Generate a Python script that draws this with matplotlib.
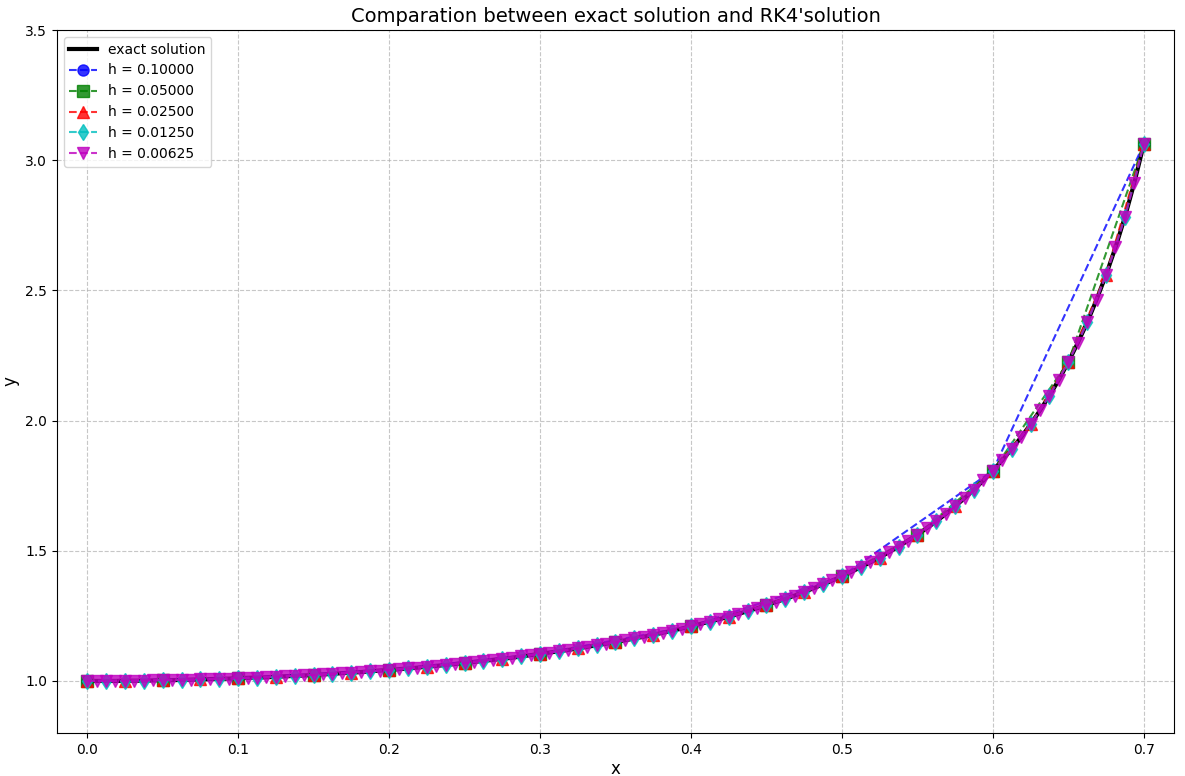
import numpy as np
import matplotlib
matplotlib.use("Agg")
import matplotlib.pyplot as plt

# values
y_exact = [
    1.000, 1.000, 1.000, 1.000, 1.001, 1.001, 1.001, 1.002, 1.003, 1.003,
    1.004, 1.005, 1.006, 1.007, 1.008, 1.009, 1.010, 1.012, 1.013, 1.014,
    1.016, 1.018, 1.019, 1.021, 1.023, 1.025, 1.027, 1.030, 1.032, 1.034,
    1.037, 1.040, 1.042, 1.045, 1.048, 1.051, 1.055, 1.058, 1.061, 1.065,
    1.069, 1.073, 1.077, 1.081, 1.085, 1.089, 1.094, 1.099, 1.104, 1.109,
    1.114, 1.119, 1.125, 1.131, 1.137, 1.143, 1.149, 1.156, 1.163, 1.170,
    1.177, 1.185, 1.193, 1.201, 1.210, 1.219, 1.228, 1.237, 1.247, 1.257,
    1.268, 1.279, 1.291, 1.303, 1.315, 1.328, 1.342, 1.356, 1.371, 1.386,
    1.402, 1.419, 1.437, 1.455, 1.474, 1.495, 1.516, 1.539, 1.562, 1.587,
    1.613, 1.641, 1.671, 1.702, 1.735, 1.770, 1.808, 1.848, 1.891, 1.936,
    1.986, 2.039, 2.096, 2.157, 2.225, 2.298, 2.377, 2.465, 2.560, 2.665,
    2.782, 2.914, 3.062,
]

y_h1 = [1.000, 1.010, 1.042, 1.104, 1.210, 1.402, 1.808, 3.062]

y_h2 = [1.000, 1.003, 1.010, 1.023, 1.042, 1.069, 1.104, 1.149, 1.210,
        1.291, 1.402, 1.562, 1.808, 2.225, 3.062]

y_h3 = [1.000, 1.001, 1.003, 1.006, 1.010, 1.016, 1.023, 1.032, 1.042,
        1.055, 1.069, 1.085, 1.104, 1.125, 1.149, 1.177, 1.210, 1.247,
        1.291, 1.342, 1.402, 1.474, 1.562, 1.671, 1.808, 1.986, 2.225,
        2.560, 3.062]

y_h4 = [1.000, 1.000, 1.001, 1.001, 1.003, 1.004, 1.006, 1.008, 1.010,
        1.013, 1.016, 1.019, 1.023, 1.027, 1.032, 1.037, 1.042, 1.048,
        1.055, 1.061, 1.069, 1.077, 1.085, 1.094, 1.104, 1.114, 1.125,
        1.137, 1.149, 1.163, 1.177, 1.193, 1.210, 1.228, 1.247, 1.268,
        1.291, 1.315, 1.342, 1.371, 1.402, 1.437, 1.474, 1.516, 1.562,
        1.613, 1.671, 1.735, 1.808, 1.891, 1.986, 2.096, 2.225, 2.377,
        2.560, 2.782, 3.062]

y_h5 = list(y_exact)

steps = [0.1, 0.05, 0.025, 0.0125, 0.00625]
series = [y_h1, y_h2, y_h3, y_h4, y_h5]
colors = ['b', 'g', 'r', 'c', 'm']
markers = ['o', 's', '^', 'd', 'v']

fig = plt.figure(figsize=(11.85, 7.76), dpi=100)
ax = fig.add_axes([0.0481, 0.0554, 0.9426, 0.9059])

x_exact = np.linspace(0, 0.7, len(y_exact))
ax.plot(x_exact, y_exact, color='black', lw=3, label='exact solution')

for h, ys, c, m in zip(steps, series, colors, markers):
    xs = np.linspace(0, 0.7, len(ys))
    ax.plot(xs, ys, linestyle='--', color=c, marker=m, markersize=8,
            alpha=0.8, lw=1.5, label=f'h = {h:.5f}')

ax.set_xlim(-0.02, 0.72)
ax.set_ylim(0.8, 3.5)
ax.set_xticks(np.arange(0, 0.71, 0.1))
ax.set_yticks(np.arange(1.0, 3.51, 0.5))
ax.grid(True, linestyle='--', alpha=0.7)
ax.set_xlabel('x', fontsize=12, labelpad=2)
ax.set_ylabel('y', fontsize=12)
ax.set_title("Comparation between exact solution and RK4'solution", fontsize=14)
ax.legend(loc='upper left')

fig.savefig('out.png', dpi=100)
